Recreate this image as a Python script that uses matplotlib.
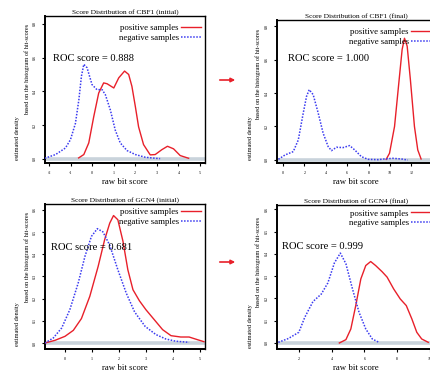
import matplotlib
matplotlib.use("Agg")
import matplotlib.pyplot as plt

plt.rcParams['font.family'] = ['Liberation Serif', 'DejaVu Serif']

W, H = 430, 373
DPI = 100

# ---------------- data ----------------
titles = ["Score Distribution of CBF1 (initial)", "Score Distribution of CBF1 (final)",
          "Score Distribution of GCN4 (initial)", "Score Distribution of GCN4 (final)"]
roc_labels = ["ROC score = 0.888", "ROC score = 1.000", "ROC score = 0.681", "ROC score = 0.999"]

cbf1_init_pos_x = [-0.63, -0.39, -0.16, 0.07, 0.30, 0.53, 0.69, 1.0, 1.23, 1.50, 1.69, 1.84, 2.0, 2.15, 2.38, 2.69, 2.92, 3.23, 3.49, 3.77, 4.08, 4.47]
cbf1_init_pos_y = [0.006, 0.026, 0.095, 0.25, 0.39, 0.45, 0.445, 0.42, 0.48, 0.52, 0.50, 0.43, 0.31, 0.19, 0.085, 0.024, 0.026, 0.055, 0.075, 0.06, 0.02, 0.004]
cbf1_init_neg_x = [-2.2, -1.70, -1.24, -1.01, -0.78, -0.62, -0.50, -0.39, -0.24, -0.01, 0.22, 0.46, 0.61, 0.84, 1.07, 1.30, 1.61, 2.0, 2.46, 2.92, 3.15]
cbf1_init_neg_y = [0.004, 0.026, 0.065, 0.114, 0.21, 0.35, 0.49, 0.56, 0.54, 0.44, 0.41, 0.41, 0.38, 0.29, 0.17, 0.095, 0.05, 0.026, 0.01, 0.004, 0.002]

cbf1_final_pos_x = [9.64, 9.95, 10.42, 10.82, 11.13, 11.35, 11.6, 11.9, 12.28, 12.59, 12.9]
cbf1_final_pos_y = [0.004, 0.04, 0.2, 0.46, 0.66, 0.727, 0.68, 0.48, 0.2, 0.06, 0.006]
cbf1_final_neg_x = [-0.43, 0.19, 0.96, 1.43, 1.89, 2.2, 2.45, 2.82, 3.29, 3.75, 4.22, 4.53, 5.0, 5.61, 6.23, 6.7, 7.32, 7.94, 8.87, 9.49, 10.26, 11.04, 11.66]
cbf1_final_neg_y = [0.004, 0.03, 0.05, 0.12, 0.28, 0.38, 0.42, 0.39, 0.28, 0.16, 0.08, 0.056, 0.076, 0.074, 0.086, 0.06, 0.02, 0.004, 0.002, 0.006, 0.01, 0.006, 0.0]

gcn4_init_pos_x = [-0.74, -0.37, 0.0, 0.31, 0.61, 0.92, 1.23, 1.47, 1.66, 1.80, 1.96, 2.15, 2.33, 2.52, 2.76, 3.0, 3.31, 3.62, 3.93, 4.29, 4.6, 4.91, 5.15]
gcn4_init_pos_y = [0.0, 0.012, 0.03, 0.057, 0.11, 0.21, 0.345, 0.465, 0.54, 0.574, 0.555, 0.458, 0.33, 0.24, 0.19, 0.15, 0.105, 0.06, 0.033, 0.027, 0.027, 0.015, 0.006]
gcn4_init_neg_x = [-0.74, -0.43, -0.12, 0.18, 0.49, 0.74, 0.98, 1.20, 1.41, 1.66, 1.96, 2.27, 2.58, 2.97, 3.37, 3.74, 4.11, 4.6]
gcn4_init_neg_y = [0.0, 0.023, 0.068, 0.15, 0.27, 0.39, 0.48, 0.515, 0.50, 0.44, 0.33, 0.225, 0.14, 0.075, 0.038, 0.018, 0.008, 0.003]

gcn4_final_pos_x = [4.47, 4.87, 5.17, 5.47, 5.78, 6.08, 6.38, 6.68, 7.08, 7.38, 7.78, 8.18, 8.55, 8.89, 9.19, 9.49, 9.89]
gcn4_final_pos_y = [0.0, 0.015, 0.063, 0.168, 0.288, 0.348, 0.366, 0.348, 0.32, 0.296, 0.243, 0.198, 0.168, 0.108, 0.048, 0.018, 0.003]
gcn4_final_neg_x = [0.75, 1.36, 2.0, 2.36, 2.86, 3.37, 3.77, 4.17, 4.53, 4.87, 5.27, 5.67, 6.08, 6.48, 6.88]
gcn4_final_neg_y = [0.003, 0.02, 0.048, 0.115, 0.186, 0.22, 0.27, 0.36, 0.404, 0.356, 0.243, 0.138, 0.063, 0.018, 0.003]

xticks_list = [[-2, -1, 0, 1, 2, 3, 4, 5], [0, 2, 4, 6, 8, 10, 12, 14],
               [0, 1, 2, 3, 4, 5], [2, 4, 6, 8, 10]]
yticks_list = [[0.0, 0.2, 0.4, 0.6, 0.8], [0.0, 0.2, 0.4, 0.6, 0.8],
               [0.0, 0.1, 0.2, 0.3, 0.4, 0.5, 0.6], [0.0, 0.1, 0.2, 0.3, 0.4, 0.5, 0.6]]
xlims = [(-2.19, 5.23), (-0.56, 14.2), (-0.74, 5.19), (0.67, 10.3)]
ylims = [(-0.024, 0.846), (-0.018, 0.836), (-0.027, 0.626), (-0.027, 0.62)]

series = [
    (cbf1_init_pos_x, cbf1_init_pos_y, cbf1_init_neg_x, cbf1_init_neg_y),
    (cbf1_final_pos_x, cbf1_final_pos_y, cbf1_final_neg_x, cbf1_final_neg_y),
    (gcn4_init_pos_x, gcn4_init_pos_y, gcn4_init_neg_x, gcn4_init_neg_y),
    (gcn4_final_pos_x, gcn4_final_pos_y, gcn4_final_neg_x, gcn4_final_neg_y),
]

# ---------------- layout (pixels) ----------------
boxes = [(45, 16, 205, 163), (277, 20, 435, 163), (45, 204, 205, 349), (277, 205, 435, 349)]
roc_pos = [(0.05, 0.714), (0.07, 0.734), (0.04, 0.70), (0.03, 0.71)]
leg_shift = [4, 4, 0, 0]
ylab1 = [(18, 160), (250, 160), (18, 346), (250, 348)]
ylab2 = [(27, 115), (258, 120), (27, 303), (258, 308)]

RED = '#e8202a'
BLUE = '#3a3af0'

fig = plt.figure(figsize=(W / DPI, H / DPI), dpi=DPI)

def fx(px):
    return px / W

def fy(py):
    return 1 - py / H

for i in range(4):
    l, t, r, b = boxes[i]
    ax = fig.add_axes([fx(l), fy(b), (r - l) / W, (b - t) / H])
    px_, py_, nx_, ny_ = series[i]
    ax.axhline(0, color='#c9d3db', lw=2.6, zorder=1)
    ax.plot(px_, py_, color=RED, lw=1.0, zorder=3, label='positive samples')
    ax.plot(nx_, ny_, color=BLUE, lw=1.1, ls=(0, (1, 1)), zorder=3, label='negative samples')
    ax.set_xlim(*xlims[i])
    ax.set_ylim(*ylims[i])
    ax.set_xticks(xticks_list[i])
    ax.set_yticks(yticks_list[i])
    ax.set_xticklabels([str(v) for v in xticks_list[i]])
    ax.set_yticklabels(['%.1f' % v for v in yticks_list[i]], rotation=90, va='center')
    ax.tick_params(axis='both', labelsize=3, length=2.5, width=0.8, pad=3, direction='out')
    for s in ['left', 'bottom']:
        ax.spines[s].set_linewidth(1.4)
    for s in ['top', 'right']:
        ax.spines[s].set_linewidth(1.0)
    ax.set_xlabel('raw bit score', fontsize=6.3, labelpad=2.5)
    ax.legend(loc='upper right', frameon=False, markerfirst=False, fontsize=6.3,
              handlelength=2.2, handletextpad=0.3, labelspacing=0.15,
              borderaxespad=0.1,
              bbox_to_anchor=(1.0, 1.0 - leg_shift[i] / (b - t)))
    ax.text(roc_pos[i][0], roc_pos[i][1], roc_labels[i], transform=ax.transAxes,
            fontsize=7.6, ha='left', va='center')
    fig.text(fx((l + r) / 2), fy(t - 1), titles[i], fontsize=5.3, ha='center', va='bottom')
    fig.text(fx(ylab1[i][0]), fy(ylab1[i][1]), 'estimated density', rotation=90,
             fontsize=4.5, ha='center', va='bottom')
    fig.text(fx(ylab2[i][0]), fy(ylab2[i][1]), 'based on the histogram of hit-scores', rotation=90,
             fontsize=4.5, ha='center', va='bottom')

# arrows between panels
for yy in [80, 262]:
    fig.patches.append(matplotlib.patches.FancyArrowPatch(
        (fx(217), fy(yy)), (fx(238), fy(yy)), transform=fig.transFigure,
        arrowstyle='-|>', mutation_scale=6, color=RED, lw=1.2))

fig.savefig('out.png', dpi=DPI)
